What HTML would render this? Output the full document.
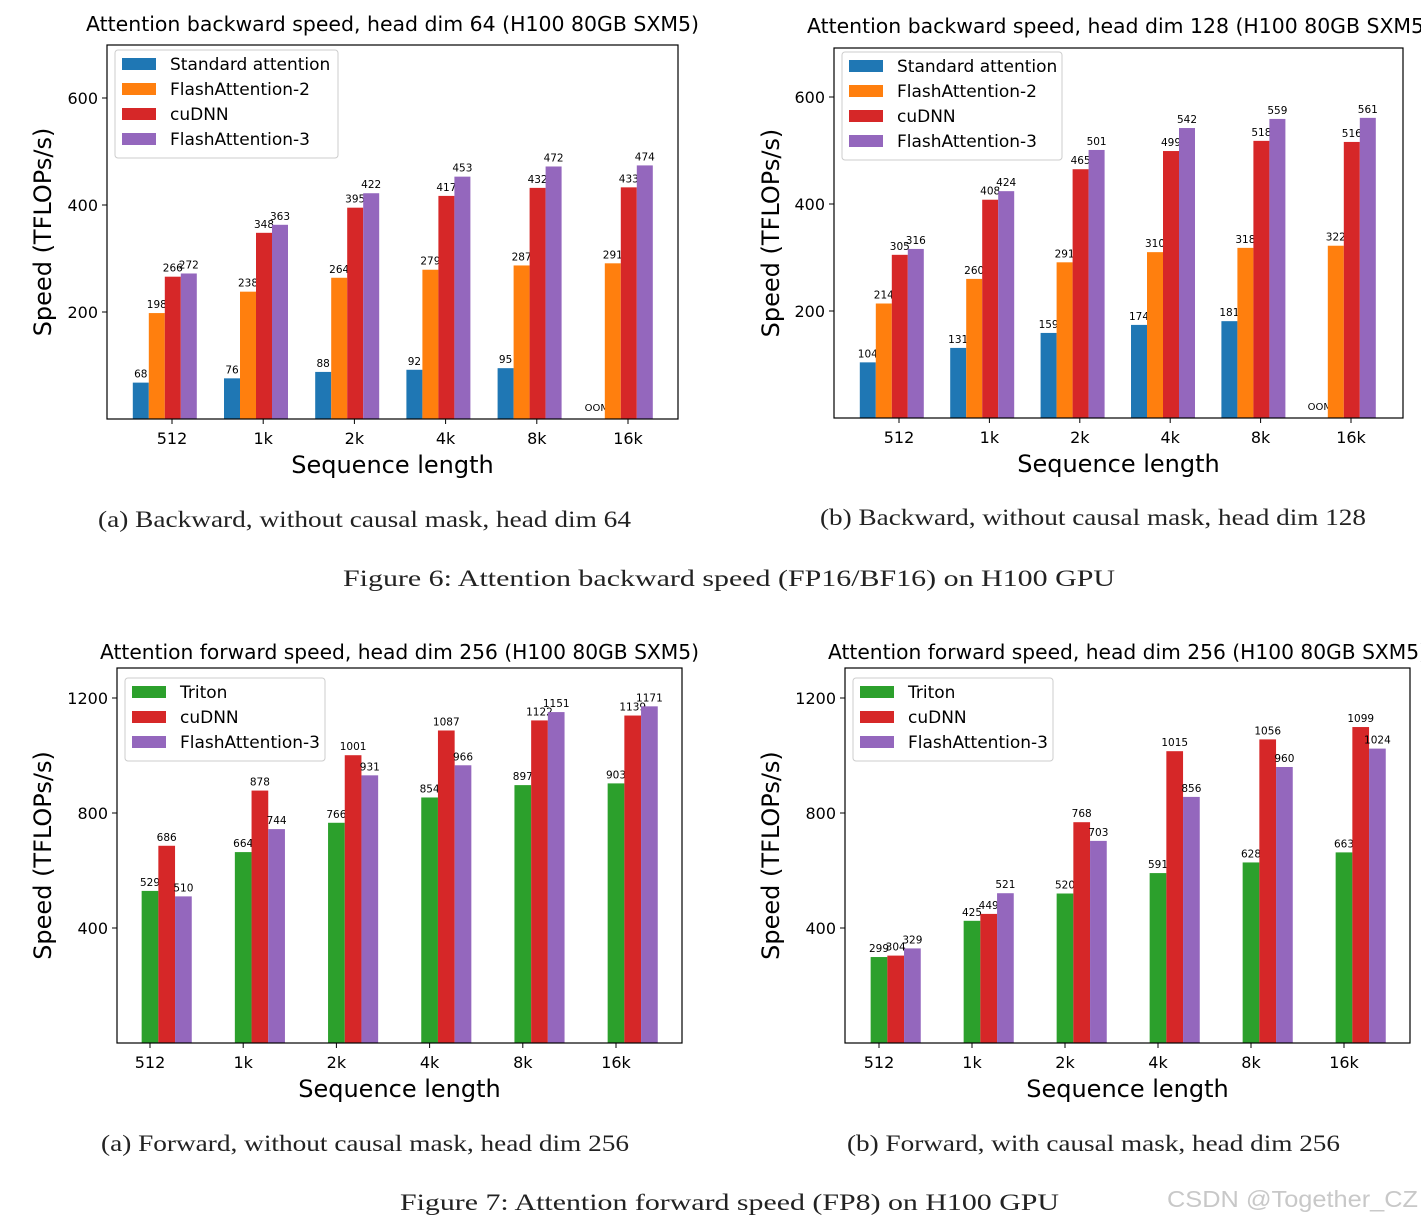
<!DOCTYPE html>
<html><head><meta charset="utf-8"><style>
body{margin:0;background:#fff;width:1421px;height:1225px;overflow:hidden;position:relative;font-family:"DejaVu Sans","Liberation Sans",sans-serif}
svg{position:absolute;left:0;top:0}
</style></head><body>
<svg id="s" width="1421" height="1225">
<g font-family="Liberation Serif, DejaVu Serif, serif" font-size="23" fill="#222">
<text x="98" y="527" textLength="533" lengthAdjust="spacingAndGlyphs">(a) Backward, without causal mask, head dim 64</text>
<text x="820" y="525" textLength="546" lengthAdjust="spacingAndGlyphs">(b) Backward, without causal mask, head dim 128</text>
<text x="343" y="586" textLength="772" lengthAdjust="spacingAndGlyphs">Figure 6: Attention backward speed (FP16/BF16) on H100 GPU</text>
<text x="101" y="1151" textLength="528" lengthAdjust="spacingAndGlyphs">(a) Forward, without causal mask, head dim 256</text>
<text x="847" y="1151" textLength="493" lengthAdjust="spacingAndGlyphs">(b) Forward, with causal mask, head dim 256</text>
<text x="400" y="1210" textLength="659" lengthAdjust="spacingAndGlyphs">Figure 7: Attention forward speed (FP8) on H100 GPU</text>
</g>
<text x="1167" y="1207" font-family="Liberation Sans, sans-serif" font-size="23" fill="#c8c8c8" textLength="251" lengthAdjust="spacingAndGlyphs">CSDN @Together_CZ</text>
</svg>
<script>
const categories=["512","1k","2k","4k","8k","16k"];
const bwdSeries=["Standard attention","FlashAttention-2","cuDNN","FlashAttention-3"];
const fwdSeries=["Triton","cuDNN","FlashAttention-3"];
const c1Std=[68,76,88,92,95,null];
const c1FA2=[198,238,264,279,287,291];
const c1Cud=[266,348,395,417,432,433];
const c1FA3=[272,363,422,453,472,474];
const c2Std=[104,131,159,174,181,null];
const c2FA2=[214,260,291,310,318,322];
const c2Cud=[305,408,465,499,518,516];
const c2FA3=[316,424,501,542,559,561];
const c3Tri=[529,664,766,854,897,903];
const c3Cud=[686,878,1001,1087,1122,1139];
const c3FA3=[510,744,931,966,1151,1171];
const c4Tri=[299,425,520,591,628,663];
const c4Cud=[304,449,768,1015,1056,1099];
const c4FA3=[329,521,703,856,960,1024];
const bwdTicks=[200,400,600];
const fwdTicks=[400,800,1200];
const bwdColors=["#1f77b4","#ff7f0e","#d62728","#9467bd"];
const fwdColors=["#2ca02c","#d62728","#9467bd"];
const NS="http://www.w3.org/2000/svg";
const svg=document.getElementById('s');
function mk(tag,attrs,parent,txt){const e=document.createElementNS(NS,tag);for(const k in attrs)e.setAttribute(k,attrs[k]);if(txt!==undefined)e.textContent=txt;(parent||svg).appendChild(e);return e;}
function chart(cfg){
  const g=mk('g',{});
  
  
  const y=v=>cfg.y0-(v)*cfg.k;
  const x=i=>cfg.tick0+i*cfg.step;
  const t=mk('text',{x:cfg.titleX,y:cfg.titleY,'font-size':20,textLength:cfg.titleW,lengthAdjust:'spacingAndGlyphs',fill:'#000'},g,cfg.title);
  
  
  const bw=cfg.bw,n=cfg.series.length;
  cfg.series.forEach((arr,si)=>{
    arr.forEach((v,i)=>{
      const bx=x(i)-cfg.tickOff*bw+si*bw;
      if(v===null){
        const o=mk('text',{x:bx+bw/2,y:cfg.y0-8,'font-size':10,'text-anchor':'middle'},g,'OOM');
        
        
        return;
      }
      const r=mk('rect',{x:bx,y:y(v),width:bw,height:v*cfg.k,fill:cfg.colors[si]},g);
      
      
      const l=mk('text',{x:bx+bw/2,y:y(v)-5,'font-size':10.5,'text-anchor':'middle'},g,String(v));
      
      
    });
  });
  const fr=mk('rect',{x:cfg.left,y:cfg.top,width:cfg.right-cfg.left,height:cfg.y0-cfg.top,fill:'none',stroke:'#000','stroke-width':1.2},g);
  
  
  categories.forEach((c,i)=>{
    mk('line',{x1:x(i),x2:x(i),y1:cfg.y0,y2:cfg.y0+5,stroke:'#000'},g);
    const tl=mk('text',{x:x(i),y:cfg.y0+25,'font-size':16,'text-anchor':'middle'},g,c);
    
    
  });
  cfg.ticks.forEach(v=>{
    mk('line',{x1:cfg.left-5,x2:cfg.left,y1:y(v),y2:y(v),stroke:'#000'},g);
    const tl=mk('text',{x:cfg.left-9,y:y(v)+6,'font-size':16,'text-anchor':'end'},g,String(v));
    
    
  });
  const cx=(cfg.left+cfg.right)/2;
  const xl=mk('text',{x:cx,y:cfg.y0+54,'font-size':24,'text-anchor':'middle'},g,'Sequence length');
  
  
  const cy=(cfg.top+cfg.y0)/2;
  const yl=mk('text',{x:cfg.yLabX,y:cy,'font-size':24,'text-anchor':'middle',transform:`rotate(-90 ${cfg.yLabX} ${cy})`},g,'Speed (TFLOPs/s)');
  
  
  const lg=mk('g',{},g);
  
  
  mk('rect',{x:cfg.legX,y:cfg.legY,width:cfg.legW,height:8+n*25,fill:'#fff',stroke:'#ccc',rx:3},lg);
  cfg.labels.forEach((lab,i)=>{
    const e=mk('g',{},lg);
    
    
    mk('rect',{x:cfg.legX+7,y:cfg.legY+8+i*25,width:34,height:12,fill:cfg.colors[i]},e);
    mk('text',{x:cfg.legX+55,y:cfg.legY+20+i*25,'font-size':17},e,lab);
  });
}
chart({name:'chart-backward-hd64',title:'Attention backward speed, head dim 64 (H100 80GB SXM5)',titleX:86,titleY:31,titleW:613,left:107,right:678,top:45,y0:419,k:0.535,tick0:172,step:91.2,bw:16,tickOff:2.45,series:[c1Std,c1FA2,c1Cud,c1FA3],labels:bwdSeries,colors:bwdColors,ticks:bwdTicks,yLabX:51,legX:115,legY:50,legW:223});
chart({name:'chart-backward-hd128',title:'Attention backward speed, head dim 128 (H100 80GB SXM5)',titleX:807,titleY:33,titleW:625,left:834,right:1403,top:48,y0:418,k:0.535,tick0:899,step:90.4,bw:16,tickOff:2.45,series:[c2Std,c2FA2,c2Cud,c2FA3],labels:bwdSeries,colors:bwdColors,ticks:bwdTicks,yLabX:779,legX:842,legY:52,legW:220});
chart({name:'chart-forward-hd256',title:'Attention forward speed, head dim 256 (H100 80GB SXM5)',titleX:100,titleY:659,titleW:599,left:117,right:682,top:668,y0:1043,k:0.2875,tick0:150,step:93.2,bw:16.7,tickOff:0.5,series:[c3Tri,c3Cud,c3FA3],labels:fwdSeries,colors:fwdColors,ticks:fwdTicks,yLabX:51,legX:125,legY:678,legW:200});
chart({name:'chart-forward-causal-hd256',title:'Attention forward speed, head dim 256 (H100 80GB SXM5)',titleX:828,titleY:659,titleW:599,left:845,right:1410,top:668,y0:1043,k:0.2875,tick0:879,step:93,bw:16.7,tickOff:0.5,series:[c4Tri,c4Cud,c4FA3],labels:fwdSeries,colors:fwdColors,ticks:fwdTicks,yLabX:779,legX:853,legY:678,legW:200});
</script>
</body></html>
